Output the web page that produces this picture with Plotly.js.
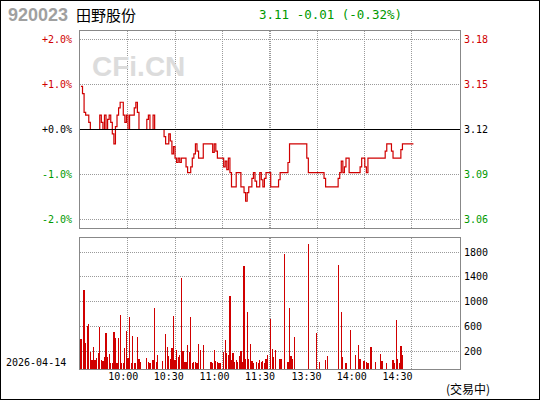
<!DOCTYPE html>
<html><head><meta charset="utf-8">
<script src="https://cdn.plot.ly/plotly-3.0.1.min.js"></script>
<style>
html,body{margin:0;padding:0;background:#fff;}
#wrap{position:relative;width:540px;height:400px;}
#chart{width:540px;height:400px;}
#frame{position:absolute;left:0;top:0;width:540px;height:400px;box-sizing:border-box;border:1px solid #000;pointer-events:none;}
</style></head><body>
<div id="wrap"><div id="chart"></div><div id="frame"></div></div>
<script>
// ---- data ----
const STOCK_CODE = '920023';
const STOCK_NAME = '田野股份';
const TRADE_DATE = '2026-04-14';
const STATUS_TEXT = '(交易中)';
const WATERMARK = 'CFi.CN';
const PREV_CLOSE = 3.12;
const LAST_PRICE = 3.11;
const PCT_STEPS = [-2, -1, 0, 1, 2];
const PCT_RANGE = 2.2;
// minute index: 9:30 = 0 ... 11:30 = 120, 13:00 = 121 ... 15:00 = 241
const TIME_GRID_IDX = [30, 60, 90, 120, 121, 151, 181, 211];
const TIME_LABEL_IDX = [27, 56, 85.2, 114.2, 143.8, 172.7, 201.9];
const TIME_LABELS = ['10:00', '10:30', '11:00', '11:30', '13:30', '14:00', '14:30'];
const VOL_TICKS = [200, 600, 1000, 1400, 1800];
const VOL_RANGE = [-90, 2026];

const PRICE_T = [0,1,2,3,5,6,12,13,14,15,16,17,18,19,20,21,22,23,24,25,27,28,29,30,31,34,35,36,37,42,43,44,46,47,53,54,56,57,58,59,60,61,62,63,64,67,68,70,71,72,73,74,75,78,84,85,86,87,91,92,93,94,95,96,99,102,104,105,106,107,109,110,111,112,114,115,116,117,118,121,126,127,132,133,144,145,155,156,164,165,166,167,168,169,171,178,179,181,182,183,194,195,198,199,204,205,212];
const PRICE_V = [3.150,3.145,3.132,3.130,3.125,3.120,3.130,3.125,3.120,3.130,3.120,3.127,3.130,3.125,3.117,3.110,3.122,3.130,3.135,3.139,3.130,3.125,3.130,3.120,3.130,3.135,3.139,3.132,3.120,3.127,3.130,3.120,3.130,3.120,3.115,3.110,3.117,3.112,3.103,3.108,3.100,3.097,3.100,3.097,3.100,3.094,3.090,3.094,3.100,3.103,3.110,3.105,3.100,3.110,3.104,3.110,3.105,3.100,3.094,3.098,3.092,3.100,3.090,3.080,3.090,3.080,3.076,3.070,3.076,3.080,3.086,3.090,3.084,3.080,3.090,3.085,3.080,3.086,3.090,3.080,3.085,3.090,3.097,3.110,3.100,3.090,3.086,3.080,3.086,3.090,3.098,3.090,3.094,3.100,3.090,3.094,3.100,3.094,3.090,3.100,3.105,3.110,3.105,3.100,3.106,3.110,3.110];

const VOL_T = [0,2,3,4,5,6,7,8,9,10,11,12,13,14,15,16,17,18,19,20,21,22,23,24,25,26,27,28,29,30,31,32,33,34,35,36,37,38,42,43,44,46,47,48,49,52,54,55,56,57,58,59,60,61,62,63,64,65,66,67,68,69,70,71,72,73,74,75,76,78,83,84,85,86,87,88,89,91,92,93,94,95,96,97,98,99,100,101,102,103,104,105,106,107,108,109,110,112,113,114,115,116,117,118,119,121,122,123,124,127,128,130,132,133,134,135,136,145,150,152,156,157,164,166,167,169,172,175,177,178,180,181,182,183,185,188,191,192,195,199,200,201,202,203,204,205];
const VOL_V = [399,1191,334,614,641,189,59,269,59,92,167,587,59,43,108,496,108,156,11,11,512,415,11,415,787,11,11,253,528,92,754,11,442,11,11,431,75,27,92,27,11,59,900,27,140,43,479,269,119,75,253,770,59,221,108,140,1384,205,27,27,302,189,754,11,27,27,11,318,221,302,27,11,221,43,27,11,11,189,382,172,140,1094,59,172,27,59,27,124,205,27,1578,75,835,75,318,43,11,27,11,59,27,43,11,75,140,727,237,108,221,75,75,1772,27,900,124,75,431,1934,496,27,59,124,1595,835,108,11,544,140,302,75,43,43,27,11,269,27,156,43,11,59,11,706,75,11,285,140];

// ---- style ----
const RED = '#d00000', GREEN = '#009900', BLACK = '#000000';
const MONO = 'DejaVu Sans Mono';
const W = 540, H = 400, L = 80, R = 80, T = 31, B = 31;
const PW = W - L - R, PH = H - T - B;
const px2x = p => (p - L) / PW;
const py2y = p => (H - B - p) / PH;
const priceDomain = [py2y(228), 1];
const volDomain = [0, py2y(238.3)];
const XR = [-0.6, 241.7];
const GRID = {showgrid: true, gridcolor: '#9a9a9a', griddash: '1px,1px', gridwidth: 1};

const colorFor = k => k > 0 ? RED : (k < 0 ? GREEN : BLACK);
const priceTicks = PCT_STEPS.map(k => PREV_CLOSE * (1 + k / 100));
const pctText = PCT_STEPS.map(k => '<span style="color:' + colorFor(k) + '">' + (k >= 0 ? '+' : '-') + Math.abs(k).toFixed(1) + '%</span>');
const priceText = PCT_STEPS.map((k, i) => '<span style="color:' + colorFor(k) + '">' + priceTicks[i].toFixed(2) + '</span>');
const pRange = [PREV_CLOSE * (1 - PCT_RANGE / 100), PREV_CLOSE * (1 + PCT_RANGE / 100)];

const chg = LAST_PRICE - PREV_CLOSE;
const chgPct = chg / PREV_CLOSE * 100;
const quoteText = LAST_PRICE.toFixed(2) + ' ' + (chg >= 0 ? '+' : '-') + Math.abs(chg).toFixed(2) + ' (' + (chgPct >= 0 ? '+' : '-') + Math.abs(chgPct).toFixed(2) + '%)';
const quoteColor = chg > 0 ? RED : (chg < 0 ? GREEN : BLACK);

const hidden = {mode: 'markers', marker: {opacity: 0, size: 1}, hoverinfo: 'skip', showlegend: false};
const traces = [
  {type: 'scatter', mode: 'lines', x: PRICE_T, y: PRICE_V, xaxis: 'x', yaxis: 'y',
   line: {color: RED, width: 1.2, shape: 'hv'}, hoverinfo: 'skip', showlegend: false},
  {type: 'bar', x: VOL_T, y: VOL_V.map(v => v - VOL_RANGE[0]), base: VOL_RANGE[0],
   xaxis: 'x2', yaxis: 'y3', width: 0.8, marker: {color: RED, line: {width: 0}},
   hoverinfo: 'skip', showlegend: false},
  // invisible anchors so the overlaying label axes are drawn
  Object.assign({type: 'scatter', x: [PRICE_T[0]], y: [PRICE_V[0]], xaxis: 'x', yaxis: 'y2'}, hidden),
  Object.assign({type: 'scatter', x: [VOL_T[0]], y: [VOL_V[0]], xaxis: 'x3', yaxis: 'y3'}, hidden)
];

const tickFont = {family: MONO, size: 10, color: BLACK};
const layout = {
  width: W, height: H,
  margin: {l: L, r: R, t: T, b: B, pad: 0},
  paper_bgcolor: '#ffffff', plot_bgcolor: '#ffffff',
  showlegend: false, bargap: 0,
  xaxis: Object.assign({domain: [0, 1], anchor: 'y', range: XR, tickmode: 'array', tickvals: TIME_GRID_IDX,
    showticklabels: false, ticks: '', showline: true, mirror: true, linecolor: '#888', linewidth: 1, zeroline: false, fixedrange: true}, GRID),
  xaxis2: Object.assign({domain: [0, 1], anchor: 'y3', range: XR, tickmode: 'array', tickvals: TIME_GRID_IDX,
    showticklabels: false, ticks: '', showline: true, mirror: true, linecolor: '#888', linewidth: 1, zeroline: false, fixedrange: true}, GRID),
  xaxis3: {overlaying: 'x2', anchor: 'y3', side: 'bottom', range: XR, tickmode: 'array', tickvals: TIME_LABEL_IDX, ticktext: TIME_LABELS,
    showgrid: false, showline: false, zeroline: false, ticks: '', tickfont: tickFont, fixedrange: true},
  yaxis: Object.assign({domain: priceDomain, anchor: 'x', side: 'left', range: pRange, tickmode: 'array', tickvals: priceTicks, ticktext: pctText,
    ticks: 'outside', ticklen: 5, tickcolor: 'rgba(0,0,0,0)', tickfont: tickFont,
    showline: true, mirror: true, linecolor: '#888', linewidth: 1, zeroline: false, fixedrange: true}, GRID),
  yaxis2: {overlaying: 'y', anchor: 'x', side: 'right', range: pRange, tickmode: 'array', tickvals: priceTicks, ticktext: priceText,
    showgrid: false, showline: false, zeroline: false, ticks: 'outside', ticklen: 1, tickcolor: 'rgba(0,0,0,0)', tickfont: tickFont, fixedrange: true},
  yaxis3: Object.assign({domain: volDomain, anchor: 'x2', side: 'right', range: VOL_RANGE, tickmode: 'array', tickvals: VOL_TICKS,
    ticks: 'outside', ticklen: 1, tickcolor: 'rgba(0,0,0,0)', tickfont: tickFont,
    showline: true, mirror: true, linecolor: '#888', linewidth: 1, zeroline: false, fixedrange: true}, GRID),
  shapes: [
    {type: 'line', xref: 'x domain', x0: 0, x1: 1, yref: 'y', y0: PREV_CLOSE, y1: PREV_CLOSE, line: {color: BLACK, width: 1.2}}
  ],
  annotations: [
    {text: '<b>' + STOCK_CODE + '</b>', xref: 'paper', yref: 'paper', x: px2x(6), y: py2y(15), xanchor: 'left', yanchor: 'middle', showarrow: false,
     font: {family: 'Liberation Sans', size: 18, color: '#a0a0a0'}},
    {text: STOCK_NAME, xref: 'paper', yref: 'paper', x: px2x(74), y: py2y(15), xanchor: 'left', yanchor: 'middle', showarrow: false,
     font: {family: 'Noto Sans CJK SC', size: 15, color: BLACK}},
    {text: quoteText, xref: 'paper', yref: 'paper', x: px2x(257), y: py2y(15), xanchor: 'left', yanchor: 'middle', showarrow: false,
     font: {family: MONO, size: 12.5, color: quoteColor}},
    {text: '<b>' + WATERMARK + '</b>', xref: 'paper', yref: 'paper', x: px2x(90), y: py2y(66), xanchor: 'left', yanchor: 'middle', showarrow: false,
     font: {family: 'Liberation Sans', size: 28, color: '#dcdcdc'}},
    {text: TRADE_DATE, xref: 'paper', yref: 'paper', x: px2x(4), y: py2y(362), xanchor: 'left', yanchor: 'middle', showarrow: false,
     font: {family: MONO, size: 10, color: BLACK}},
    {text: STATUS_TEXT, xref: 'paper', yref: 'paper', x: px2x(444), y: py2y(388), xanchor: 'left', yanchor: 'middle', showarrow: false,
     font: {family: 'Noto Sans CJK SC', size: 12, color: BLACK}}
  ]
};

Plotly.newPlot('chart', traces, layout, {displayModeBar: false, staticPlot: true});
</script>
</body></html>
